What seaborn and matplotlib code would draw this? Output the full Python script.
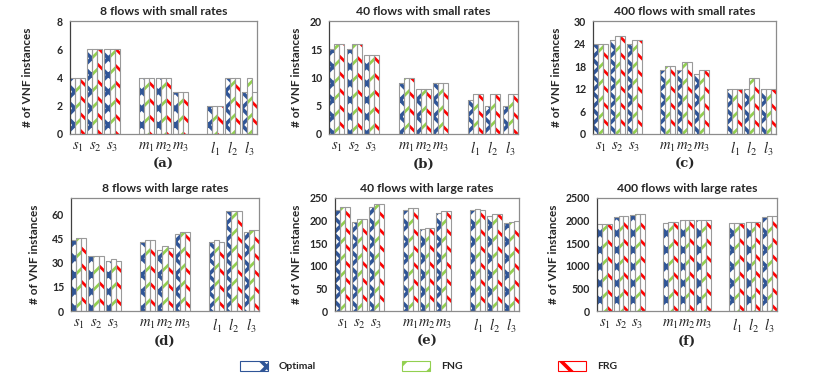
import numpy as np
import pandas as pd
import matplotlib
matplotlib.use('Agg')
import matplotlib.pyplot as plt
import matplotlib.patches as mpatches
import seaborn as sns

# 数据
categories = ['s1', 's2', 's3', 'm1', 'm2', 'm3', 'l1', 'l2', 'l3']
tick_labels = [r'$s_1$', r'$s_2$', r'$s_3$', r'$m_1$', r'$m_2$', r'$m_3$',
               r'$l_1$', r'$l_2$', r'$l_3$']
methods = ['Optimal', 'FNG', 'FRG']
titles = ['8 flows with small rates', '40 flows with small rates', '400 flows with small rates',
          '8 flows with large rates', '40 flows with large rates', '400 flows with large rates']
panel_tags = ['(a)', '(b)', '(c)', '(d)', '(e)', '(f)']

a_optimal = [4, 6, 6, 4, 4, 3, 2, 4, 3]
a_fng = [4, 6, 6, 4, 4, 3, 2, 4, 4]
a_frg = [4, 6, 6, 4, 4, 3, 2, 4, 3]

b_optimal = [15, 15, 14, 9, 8, 9, 6, 5, 5]
b_fng = [16, 16, 14, 10, 8, 9, 7, 7, 7]
b_frg = [16, 16, 14, 10, 8, 9, 7, 7, 7]

c_optimal = [24, 25, 24, 17, 17, 16, 12, 12, 12]
c_fng = [24, 26, 25, 18, 19, 17, 12, 15, 12]
c_frg = [24, 26, 25, 18, 19, 17, 12, 15, 12]

d_optimal = [44, 34, 31, 43, 38, 48, 43, 62, 49]
d_fng = [45, 34, 32, 44, 40, 49, 44, 62, 50]
d_frg = [45, 34, 31, 44, 39, 49, 43, 62, 50]

e_optimal = [223, 198, 229, 223, 182, 217, 223, 210, 194]
e_fng = [230, 204, 236, 227, 184, 221, 225, 214, 198]
e_frg = [230, 204, 236, 227, 184, 221, 224, 214, 199]

f_optimal = [1920, 2087, 2123, 1957, 2007, 2007, 1957, 1978, 2080]
f_fng = [1927, 2100, 2140, 1964, 2014, 2007, 1957, 1978, 2094]
f_frg = [1927, 2100, 2140, 1964, 2014, 2007, 1957, 1964, 2094]

panels = [(a_optimal, a_fng, a_frg), (b_optimal, b_fng, b_frg), (c_optimal, c_fng, c_frg),
          (d_optimal, d_fng, d_frg), (e_optimal, e_fng, e_frg), (f_optimal, f_fng, f_frg)]
y_max = [8, 20, 30, 70, 250, 2500]
y_step = [2, 5, 6, 15, 50, 500]

# 各子图位置（像素：左, 上, 右, 下）和 y 轴标签的 x 位置
W, H = 830, 374
boxes = [(70, 21, 257, 134), (329, 21, 518, 134), (593, 21, 776, 134),
         (71, 198, 259, 311), (335, 198, 519, 311), (597, 198, 777, 311)]
ylabel_px = [33, 302, 562, 40, 302, 559]

# 样式
sns.set_style('white')
plt.rcParams['font.family'] = ['Lato', 'DejaVu Sans']
plt.rcParams['mathtext.fontset'] = 'stix'
plt.rcParams['hatch.linewidth'] = 2.6

hatches = {'Optimal': 'xx', 'FNG': '//', 'FRG': '\\\\'}
hatch_colors = {'Optimal': '#2F5597', 'FNG': '#92D050', 'FRG': '#FF0000'}
edge_gray = '#9A9A9A'

# 中间留空位
order = ['s1', 's2', 's3', 'gap1', 'm1', 'm2', 'm3', 'gap2', 'l1', 'l2', 'l3']
tick_pos = [0, 1, 2, 4, 5, 6, 8, 9, 10]

fig, axs = plt.subplots(2, 3, figsize=(8.3, 3.74), dpi=100)

for i, ax in enumerate(axs.flat):
    l, t, r, b = boxes[i]
    ax.set_position([l / W, 1 - b / H, (r - l) / W, (b - t) / H])

    opt, fng, frg = panels[i]
    df = pd.DataFrame({
        'cat': categories * 3,
        'method': np.repeat(methods, len(categories)),
        'value': opt + fng + frg,
    })
    sns.barplot(data=df, x='cat', y='value', hue='method', order=order, hue_order=methods,
                palette=['white'] * 3, width=0.88, errorbar=None, saturation=1,
                legend=False, ax=ax)
    for cont, m in zip(ax.containers, methods):
        for bar in cont:
            bar.set_hatch(hatches[m])
            bar.set_edgecolor(hatch_colors[m])
            bar.set_linewidth(0)
            if hasattr(bar, 'set_hatch_linewidth'):
                bar.set_hatch_linewidth(2.6 if m == 'Optimal' else 2.0)
            ax.add_patch(mpatches.Rectangle(bar.get_xy(), bar.get_width(), bar.get_height(),
                                            fill=False, edgecolor=edge_gray, linewidth=0.8))

    ax.set_xlim(-0.45, 10.45)
    ax.set_ylim(0, y_max[i])
    ax.set_yticks(np.arange(0, y_max[i] + 1, y_step[i]))
    ax.set_xticks(tick_pos, tick_labels)
    ax.tick_params(axis='x', length=0, pad=4, labelsize=10.5)
    ax.tick_params(axis='y', length=3, width=0.8, color='#555555', pad=2, labelsize=7.6)
    for lab in ax.get_yticklabels():
        lab.set_fontweight('bold')
    for sp in ax.spines.values():
        sp.set_color('#8C8C8C')
        sp.set_linewidth(0.9)
    ax.spines['left'].set_color('#404040')
    ax.set_xlabel('')
    ax.set_ylabel('# of VNF instances', fontsize=8.5, fontweight='bold')
    ax.yaxis.set_label_coords((ylabel_px[i] - l) / (r - l), 0.5)
    ax.set_title(titles[i], fontsize=8.7, fontweight='bold', pad=4)
    ax.text(0.5, -0.27, panel_tags[i], transform=ax.transAxes, ha='center', va='center',
            fontsize=9.5, fontweight='bold', family='DejaVu Serif')

# 图例
leg_x = [236 / W, 398 / W, 554 / W]
for m, x in zip(methods, leg_x):
    h = mpatches.Patch(facecolor='white', edgecolor=hatch_colors[m], hatch=hatches[m][0], linewidth=0.8)
    fig.legend(handles=[h], labels=[m], loc='center left', bbox_to_anchor=(x, 1 - 366 / H),
               frameon=False, borderaxespad=0, handlelength=2.7, handleheight=1.1,
               handletextpad=1.0, prop={'weight': 'bold', 'size': 7.5})

plt.savefig('out.png', dpi=100)
